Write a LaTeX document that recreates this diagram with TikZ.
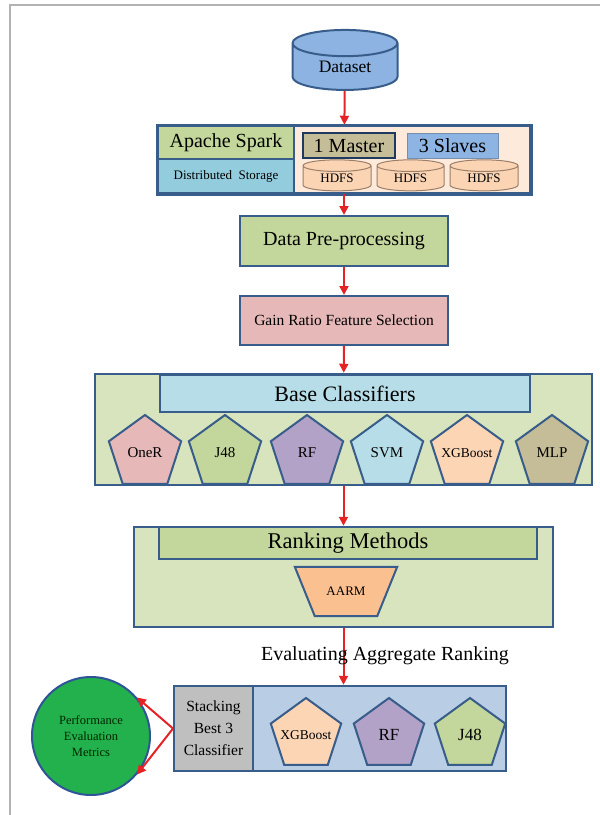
\documentclass[tikz,border=0pt]{standalone}
\usepackage{fontspec}
\setmainfont{Liberation Serif}
\usetikzlibrary{shapes.geometric,arrows.meta,calc}
\definecolor{boxblue}{HTML}{385D8A}
\definecolor{navy}{HTML}{1F3A5F}
\definecolor{arrowred}{HTML}{E52326}
\definecolor{dsblue}{HTML}{8DB3E2}
\definecolor{sgreen}{HTML}{C3D69B}
\definecolor{scyan}{HTML}{93CDDD}
\definecolor{speach}{HTML}{FDEADA}
\definecolor{tan}{HTML}{C4BD97}
\definecolor{slave}{HTML}{8EB4E3}
\definecolor{hdfs}{HTML}{FBD4B4}
\definecolor{hdfsline}{HTML}{9C7F68}
\definecolor{pink}{HTML}{E6B9B8}
\definecolor{lgreen}{HTML}{D7E4BD}
\definecolor{lblue}{HTML}{B7DEE8}
\definecolor{lilac}{HTML}{B3A2C7}
\definecolor{orange}{HTML}{FCD5B5}
\definecolor{aarm}{HTML}{FAC090}
\definecolor{stackblue}{HTML}{B9CDE5}
\definecolor{perfgreen}{HTML}{22B14C}
\definecolor{perfline}{HTML}{2F5597}
\newcommand{\fsz}[1]{\fontsize{#1}{#1}\selectfont}
\begin{document}
\begin{tikzpicture}[x=1pt,y=-1pt,
  flow/.style={-{Triangle[length=9pt,width=9pt]},line width=2pt,draw=arrowred},
  box/.style={rectangle,draw=boxblue,line width=2pt,inner sep=0pt},
  cell/.style={rectangle,draw=boxblue,line width=1.2pt,inner sep=0pt},
  cyl/.style={cylinder,shape border rotate=90,shape aspect=0.35,inner sep=0pt},
  pent/.style={regular polygon,regular polygon sides=5,draw=boxblue,line width=2pt,inner sep=0pt,minimum size=76pt,font={\fsz{15}}}]
\useasboundingbox (0,0) rectangle (600,815);
\draw[line width=2pt,draw=black!30] (10,815) -- (10,5) -- (600,5);
%
\node[cyl,shape aspect=0.5,draw=boxblue,line width=2pt,fill=dsblue,minimum width=105pt,minimum height=60pt,font={\fsz{17.5}}](dataset) at (345,67) {Dataset};
%
\node[box,line width=2.5pt,fill=speach,minimum width=372pt,minimum height=67pt](cluster) at (344,159.5) {};
\draw[flow](dataset) -- (cluster) {};
\node[cell,fill=sgreen,minimum width=136pt,minimum height=33pt,font={\fsz{20}}](spark) at (226,142.5) {Apache Spark};
\node[cell,fill=scyan,minimum width=136pt,minimum height=34pt,font={\fsz{13}}](storage) at (226,176) {Distributed\ \ Storage};
\node[rectangle,draw=navy,line width=2.5pt,fill=tan,minimum width=92pt,minimum height=25pt,inner sep=0pt,font={\fsz{20}}](master) at (349,145.5) {1 Master};
\node[rectangle,draw=boxblue!70,line width=1pt,fill=slave,minimum width=91pt,minimum height=25pt,inner sep=0pt,font={\fsz{20}}](slaves) at (452.5,145.5) {3 Slaves};
\node[cyl,draw=hdfsline,line width=1pt,fill=hdfs,minimum width=68pt,minimum height=31pt,font={\fsz{13}}](hdfsa) at (337,178.5) {HDFS};
\node[cyl,draw=hdfsline,line width=1pt,fill=hdfs,minimum width=67pt,minimum height=31pt,font={\fsz{13}}](hdfsb) at (410.5,178.5) {HDFS};
\node[cyl,draw=hdfsline,line width=1pt,fill=hdfs,minimum width=68pt,minimum height=31pt,font={\fsz{13}}](hdfsc) at (484,178.5) {HDFS};
\draw[draw=boxblue,line width=2.5pt] (cluster.north west) rectangle (cluster.south east);
%
\node[box,fill=sgreen,minimum width=208pt,minimum height=50pt,font={\fsz{20}}](prep) at (344,241) {Data Pre-processing};
\draw[flow](cluster) -- (prep) {};
%
\node[box,fill=pink,minimum width=208pt,minimum height=49pt,font={\fsz{15.5}}](gain) at (344,320.5) {Gain Ratio Feature Selection};
\draw[flow](prep) -- (gain) {};
%
\node[box,line width=2.5pt,fill=lgreen,minimum width=497pt,minimum height=111pt](base) at (343.5,429.5) {};
\draw[flow](gain) -- (base) {};
\node[box,line width=2.5pt,fill=lblue,minimum width=370pt,minimum height=37pt,font={\fsz{22}}](basehead) at (345,393.5) {Base Classifiers};
%
\node[pent,fill=pink](oner) at (145,453) {OneR};
\node[pent,fill=sgreen](jfe) at (225,453) {J48};
\node[pent,fill=lilac](rf) at (307,453) {RF};
\node[pent,fill=lblue](svm) at (387,453) {SVM};
\node[pent,fill=orange,font={\fsz{13.5}}](xgb) at (467,453) {\makebox[0pt]{XGBoost}};
\node[pent,fill=tan](mlp) at (552,453) {MLP};
%
\node[box,line width=2.5pt,fill=lgreen,minimum width=419pt,minimum height=100pt](rank) at (343.5,577) {};
\draw[flow](base) -- (rank) {};
\node[box,line width=2.5pt,fill=sgreen,minimum width=378pt,minimum height=32pt,font={\fsz{22.5}}](rankhead) at (348,543) {Ranking Methods};
%
\node[minimum width=102pt,minimum height=49pt,inner sep=0pt](aarmbox) at (346,591.5) {};
\draw[draw=boxblue,line width=2pt,fill=aarm] (aarmbox.north west) -- (aarmbox.north east) -- ([xshift=-20pt]aarmbox.south east) -- ([xshift=20pt]aarmbox.south west) -- cycle;
\node[font={\fsz{13}}](aarmtext) at (aarmbox) {AARM};
%
\node[box,line width=2.5pt,fill=stackblue,minimum width=332pt,minimum height=85pt](best) at (340,728.5) {};
\draw[flow](rank.south) -- (rank.south |- best.north) {};
\node[font={\fsz{20}}](eval) at (385,656) {Evaluating Aggregate Ranking};
\node[cell,line width=2pt,fill=black!25,minimum width=79pt,minimum height=85pt,align=center,font={\fontsize{15.5}{22}\selectfont}](stack) at (213.5,728.5) {Stacking\\Best 3\\Classifier};
%
\node[pent,fill=orange,minimum size=74pt,font={\fsz{13.5}}](xgbbest) at (306,735) {\makebox[0pt]{XGBoost}};
\node[pent,fill=lilac,minimum size=74pt,font={\fsz{17}}](rfbest) at (389,735) {RF};
\node[pent,fill=sgreen,minimum size=74pt,font={\fsz{17}}](jfebest) at (470,735) {J48};
%
\node[circle,draw=perfline,line width=2pt,fill=perfgreen,minimum size=118pt,inner sep=0pt,align=center,text=black!85!green,font={\fontsize{12.5}{16.3}\selectfont}](perf) at (91,736) {Performance\\Evaluation\\Metrics};
\draw[flow](stack.west) -- (perf.40) {};
\draw[flow](stack.west) -- (perf.-40) {};
\end{tikzpicture}
\end{document}
